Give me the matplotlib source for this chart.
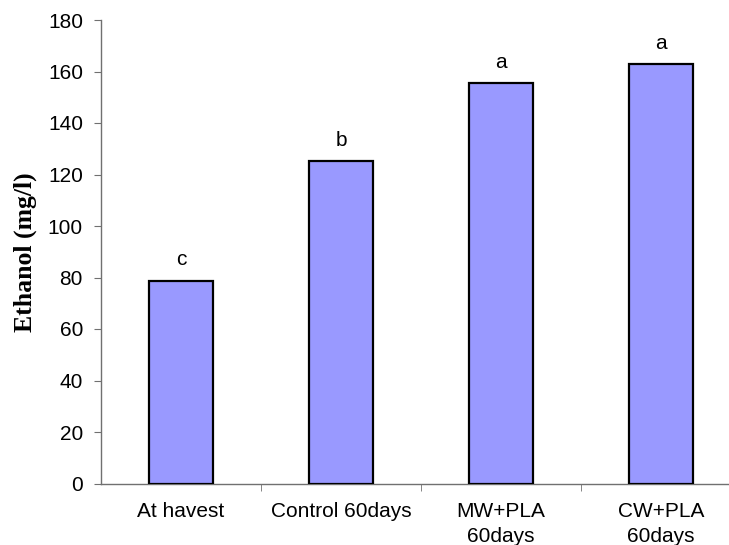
import numpy as np
import matplotlib.pyplot as plt

# --- Data ---
categories = ["At havest", "Control 60days", "MW+PLA\n60days", "CW+PLA\n60days"]
ethanol = [78.8, 125.3, 155.6, 162.9]
letters = ["c", "b", "a", "a"]
y_ticks = [0, 20, 40, 60, 80, 100, 120, 140, 160, 180]

plt.rcParams['font.family'] = ['Liberation Sans', 'DejaVu Sans']

fig = plt.figure(figsize=(7.29, 5.45), dpi=100)
ax = fig.add_axes([101 / 729, 61.5 / 545, 640 / 729, 463.5 / 545])

x = np.arange(len(categories))
bars = ax.bar(x, ethanol, width=0.406, color='#9999FF', edgecolor='black',
              linewidth=1.6, zorder=3)

# significance letters
for xi, val, lab in zip(x, ethanol, letters):
    ax.annotate(lab, (xi, val), xytext=(0, 8), textcoords='offset points',
                ha='center', va='bottom', fontsize=15)

ax.set_xlim(-0.5, len(categories) - 0.5)
ax.set_ylim(0, 180)
ax.set_yticks(y_ticks)
ax.set_xticks(x)
ax.set_xticklabels(categories, linespacing=1.4)
ax.set_xticks(np.arange(len(categories) - 1) + 0.5, minor=True)
ax.tick_params(axis='x', which='major', length=0, labelsize=15, pad=13)
ax.tick_params(axis='x', which='minor', length=5, direction='out', color='#707070')
ax.tick_params(axis='y', length=5, direction='out', labelsize=15, pad=8,
               color='#707070')

for side in ['top', 'right']:
    ax.spines[side].set_visible(False)
for side in ['left', 'bottom']:
    ax.spines[side].set_color('#707070')
    ax.spines[side].set_linewidth(1.0)

ax.set_ylabel("Ethanol (mg/l)", family=['Liberation Serif', 'DejaVu Serif'],
              fontweight='bold', fontsize=18.5, labelpad=8)

fig.savefig("out.png", dpi=100)
